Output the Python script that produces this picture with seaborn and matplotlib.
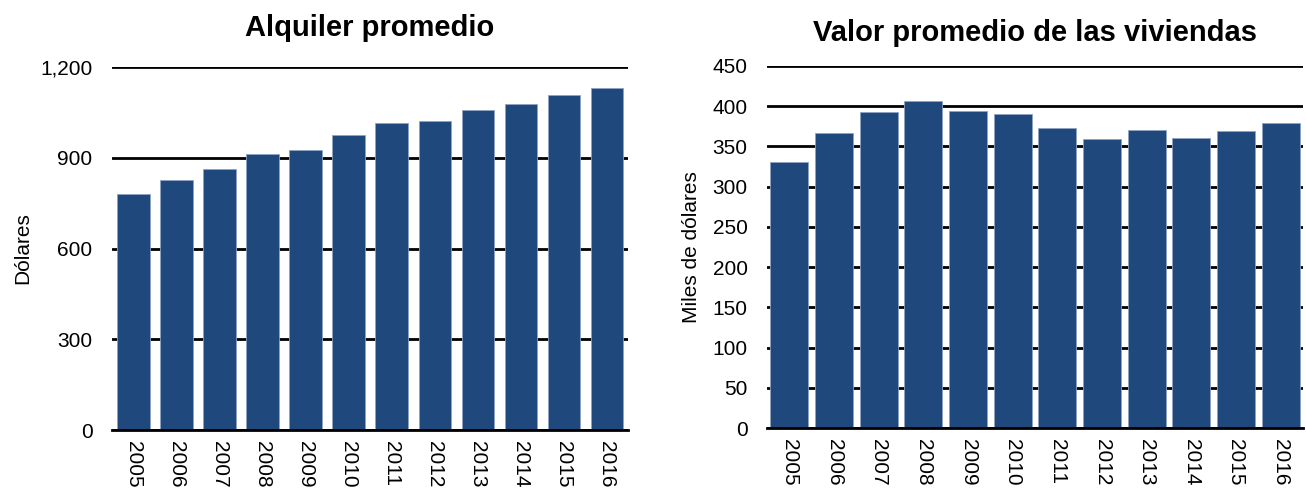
import numpy as np
import pandas as pd
import seaborn as sns
import matplotlib
matplotlib.use('Agg')
import matplotlib.pyplot as plt
from matplotlib.ticker import FuncFormatter

# Data
years = [str(y) for y in range(2005, 2017)]
alquiler = [779, 826, 862, 911, 927, 974, 1014, 1020, 1057, 1079, 1108, 1131]
valor = [331, 367, 393, 407, 394, 390, 373, 359, 370, 360, 369, 379]

bar_color = '#1F497D'

sns.set_style('white')
plt.rcParams['font.family'] = ['Liberation Sans', 'DejaVu Sans']
plt.rcParams.update({'text.color': 'black', 'axes.labelcolor': 'black',
                     'xtick.color': 'black', 'ytick.color': 'black'})

fig = plt.figure(figsize=(13.06, 4.91), dpi=100)
ax1 = fig.add_axes([0.0858, 0.1242, 0.3952, 0.7393])
ax2 = fig.add_axes([0.5873, 0.1283, 0.4104, 0.7373])

df1 = pd.DataFrame({'year': years, 'value': alquiler})
df2 = pd.DataFrame({'year': years, 'value': valor})

sns.barplot(data=df1, x='year', y='value', color=bar_color, saturation=1,
            width=0.75, edgecolor='#8ea3c4', linewidth=0.6, ax=ax1)
sns.barplot(data=df2, x='year', y='value', color=bar_color, saturation=1,
            width=0.85, edgecolor='#8ea3c4', linewidth=0.6, ax=ax2)

# Left chart
ax1.set_ylim(0, 1200)
ax1.set_yticks([0, 300, 600, 900, 1200])
ax1.yaxis.set_major_formatter(FuncFormatter(lambda v, p: f'{int(v):,}'))
ax1.set_title('Alquiler promedio', fontsize=21, fontweight='bold', pad=22)
ax1.set_ylabel('Dólares', fontsize=15, labelpad=6)

# Right chart
ax2.set_ylim(0, 450)
ax2.set_yticks(np.arange(0, 451, 50))
ax2.set_title('Valor promedio de las viviendas', fontsize=21, fontweight='bold', pad=18)
ax2.set_ylabel('Miles de dólares', fontsize=15, labelpad=8)

for ax in (ax1, ax2):
    ax.set_xlabel('')
    ax.set_xlim(-0.5, 11.5)
    ax.grid(axis='y', color='black', linewidth=2)
    ax.set_axisbelow(True)
    for s in ['top', 'right', 'left']:
        ax.spines[s].set_visible(False)
    ax.spines['bottom'].set_color('black')
    ax.spines['bottom'].set_linewidth(2)
    ax.tick_params(axis='y', length=0, labelsize=15, pad=14)
    ax.tick_params(axis='x', length=0, labelsize=15, pad=8)
    for lbl in ax.get_xticklabels():
        lbl.set_rotation(270)

fig.savefig('out.png', dpi=100)
